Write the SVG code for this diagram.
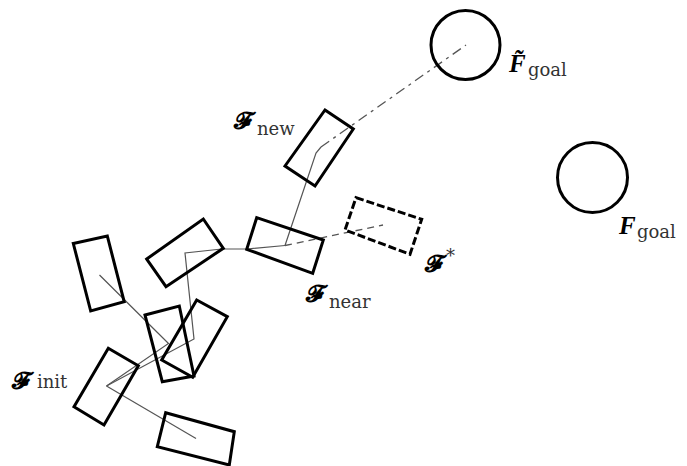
<svg xmlns="http://www.w3.org/2000/svg" width="687" height="466" viewBox="0 0 687 466">
<style>
.box{fill:none;stroke:#000;stroke-width:3;stroke-linejoin:miter}
.dbox{fill:none;stroke:#000;stroke-width:3;stroke-dasharray:8 3}
.circ{fill:none;stroke:#000;stroke-width:3}
.edge{fill:none;stroke:#555;stroke-width:1.2}
.dash{fill:none;stroke:#555;stroke-width:1.3;stroke-dasharray:7 5}
.dashdot{fill:none;stroke:#555;stroke-width:1.3;stroke-dasharray:10 5 3 5}
.scr{font-family:"DejaVu Serif","DejaVu Sans",serif;font-size:24px;font-weight:bold}
.sub{font-family:"DejaVu Serif","Liberation Serif",serif;font-size:18px;fill:#333}
.bf{font-family:"Liberation Serif","DejaVu Serif",serif;font-size:25px;font-weight:bold;font-style:italic}
</style>
<rect width="687" height="466" fill="#fff"/>
<g id="connectors">
<line class="edge" x1="106.5" y1="386" x2="196" y2="438.5"/>
<polyline class="edge" points="106.5,386 168.5,343.5 99.5,275"/>
<polyline class="edge" points="106.5,386 194,339 185,253 221.7,249 246.7,249 285,245.5"/>
<polyline class="edge" points="285,245.5 316,153 321,147"/>
<line class="dashdot" x1="321" y1="147" x2="466" y2="45"/>
<line class="dash" x1="285" y1="245.5" x2="383" y2="225"/>
</g>
<g id="node-A"><polygon class="box" points="73.3,243.5 107.3,236 124.2,301.8 90.7,311"/></g>
<g id="node-B"><polygon class="box" points="146.7,259 203.3,219 223.3,248.3 166,286.7"/></g>
<g id="node-C"><polygon class="box" points="145,315 179.3,306 194,376 162.3,381.7"/></g>
<g id="node-D"><polygon class="box" points="196.7,300 227.3,316.7 192.7,377.3 161.7,360"/></g>
<g id="node-init"><polygon class="box" points="108.3,348.3 138.3,365.7 104,425 74,406.7"/>
<text x="12" y="389" class="scr">𝓕</text><text x="37" y="388" class="sub">init</text></g>
<g id="node-E"><polygon class="box" points="165.7,412.7 234.3,431.7 229.3,465 157.3,446.7"/></g>
<g id="node-near"><polygon class="box" points="256.7,217.7 323.3,240 312.7,273.3 246.7,249.3"/>
<text x="306" y="302" class="scr">𝓕</text><text x="329" y="308" class="sub">near</text></g>
<g id="node-new"><polygon class="box" points="325,110 353.3,129 315,186 285,166"/>
<text x="234" y="129" class="scr">𝓕</text><text x="257" y="135" class="sub">new</text></g>
<g id="node-star"><polygon class="dbox" points="356,197.7 421.7,219.3 410,254.3 345,230"/>
<text x="425" y="272" class="scr">𝓕</text><text x="446" y="262" class="sub" font-size="14">*</text></g>
<g id="node-goal-tilde"><circle class="circ" cx="465.5" cy="45" r="34.5"/>
<text x="509" y="72" class="bf">F&#771;</text><text x="528" y="76" class="sub">goal</text></g>
<g id="node-goal"><circle class="circ" cx="592.5" cy="177.5" r="35"/>
<text x="619" y="234" class="bf">F</text><text x="637" y="238" class="sub">goal</text></g>
</svg>
